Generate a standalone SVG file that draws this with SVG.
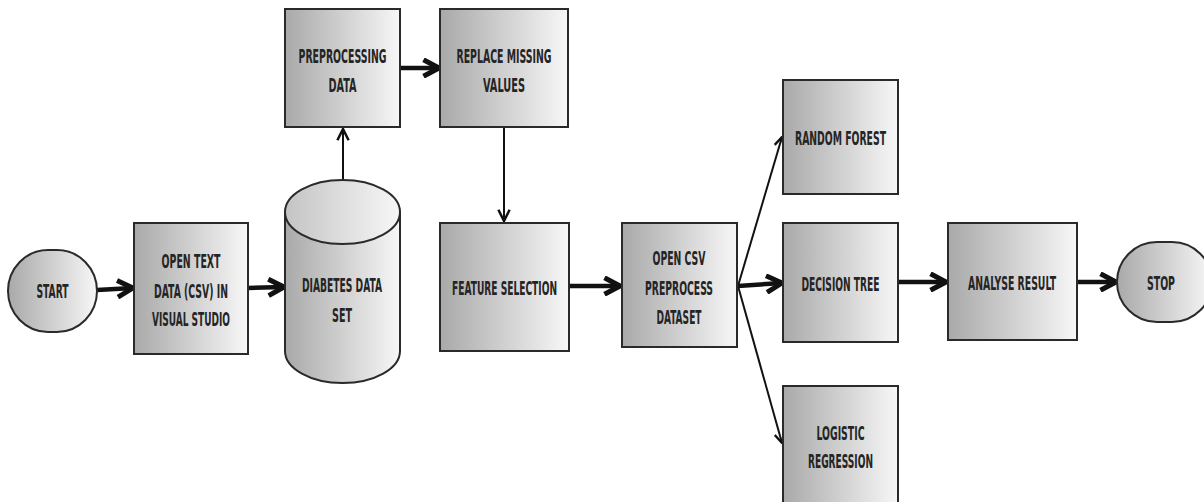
<svg xmlns="http://www.w3.org/2000/svg" width="1204" height="502" viewBox="0 0 1204 502">
<defs>
<linearGradient id="g" x1="0" y1="0" x2="1" y2="0">
<stop offset="0" stop-color="#a9a9a9"/>
<stop offset="1" stop-color="#f7f7f7"/>
</linearGradient>
<linearGradient id="gc" x1="0" y1="0" x2="1" y2="0">
<stop offset="0" stop-color="#c4c4c4"/>
<stop offset="1" stop-color="#f7f7f7"/>
</linearGradient>
<marker id="ah" viewBox="0 0 10 10" refX="9" refY="5" markerWidth="4.6" markerHeight="4.6" markerUnits="strokeWidth" orient="auto">
<path d="M1.5,1 L9,5 L1.5,9" fill="none" stroke="#111" stroke-width="2.4" stroke-linejoin="round"/>
</marker>
<marker id="ah2" viewBox="0 0 10 10" refX="9" refY="5" markerWidth="6" markerHeight="6" markerUnits="strokeWidth" orient="auto">
<path d="M1,1 L9,5 L1,9" fill="none" stroke="#111" stroke-width="2" stroke-linejoin="miter"/>
</marker>
<marker id="ah3" viewBox="0 0 10 10" refX="9" refY="5" markerWidth="7" markerHeight="7" markerUnits="strokeWidth" orient="auto">
<path d="M1,1 L9,5 L1,9" fill="none" stroke="#111" stroke-width="1.8" stroke-linejoin="miter"/>
</marker>
</defs>
<style>
.box{fill:url(#g);stroke:#2a2a2a;stroke-width:2}
.t{font-family:"DejaVu Sans Condensed","DejaVu Sans",sans-serif;font-weight:bold;font-size:19px;fill:#252525;text-anchor:middle}
.thick{stroke:#111;stroke-width:4.5;fill:none}
.thin{stroke:#111;stroke-width:2;fill:none}
</style>
<rect width="1204" height="502" fill="#fff"/>
<g id="connectors">
<line class="thick" x1="97" y1="290" x2="133" y2="288" marker-end="url(#ah)"/>
<line class="thick" x1="248" y1="288" x2="284" y2="287" marker-end="url(#ah)"/>
<line class="thin" x1="343" y1="222" x2="343" y2="129" marker-end="url(#ah3)"/>
<line class="thick" x1="400" y1="68" x2="439" y2="68" marker-end="url(#ah)"/>
<line class="thin" x1="504" y1="127" x2="504" y2="221" marker-end="url(#ah3)"/>
<line class="thick" x1="569" y1="286" x2="620" y2="286" marker-end="url(#ah)"/>
<line class="thin" x1="738" y1="286" x2="782" y2="137" marker-end="url(#ah2)"/>
<line class="thick" x1="738" y1="286" x2="782" y2="283" marker-end="url(#ah)"/>
<line class="thin" x1="738" y1="286" x2="782" y2="443" marker-end="url(#ah2)"/>
<line class="thick" x1="898" y1="282" x2="946" y2="282" marker-end="url(#ah)"/>
<line class="thick" x1="1077" y1="282" x2="1116" y2="282" marker-end="url(#ah)"/>
</g>
<g id="start">
<rect class="box" x="8" y="250" width="89" height="82" rx="40" ry="41"/>
<text class="t" x="52.5" y="298" textLength="32" lengthAdjust="spacingAndGlyphs">START</text>
</g>
<g id="open-text">
<rect class="box" x="134" y="223" width="114" height="131"/>
<text class="t" x="191" y="268" textLength="59" lengthAdjust="spacingAndGlyphs">OPEN TEXT</text>
<text class="t" x="191" y="298" textLength="74" lengthAdjust="spacingAndGlyphs">DATA (CSV) IN</text>
<text class="t" x="191" y="326" textLength="78" lengthAdjust="spacingAndGlyphs">VISUAL STUDIO</text>
</g>
<g id="diabetes-data-set">
<path d="M285,212 L285,351 A57.5,32 0 0 0 400,351 L400,212" fill="url(#g)" stroke="#2a2a2a" stroke-width="2"/>
<ellipse cx="342.5" cy="212" rx="57.5" ry="32" fill="url(#gc)" stroke="#2a2a2a" stroke-width="2"/>
<text class="t" x="342" y="292" textLength="80" lengthAdjust="spacingAndGlyphs">DIABETES DATA</text>
<text class="t" x="342" y="322" textLength="20" lengthAdjust="spacingAndGlyphs">SET</text>
</g>
<g id="preprocessing">
<rect class="box" x="285" y="9" width="115" height="118"/>
<text class="t" x="342.5" y="63" textLength="88" lengthAdjust="spacingAndGlyphs">PREPROCESSING</text>
<text class="t" x="342.5" y="92" textLength="28" lengthAdjust="spacingAndGlyphs">DATA</text>
</g>
<g id="replace-missing">
<rect class="box" x="440" y="9" width="128" height="118"/>
<text class="t" x="504" y="63" textLength="95" lengthAdjust="spacingAndGlyphs">REPLACE MISSING</text>
<text class="t" x="504" y="92" textLength="42" lengthAdjust="spacingAndGlyphs">VALUES</text>
</g>
<g id="feature-selection">
<rect class="box" x="440" y="223" width="129" height="128"/>
<text class="t" x="504.5" y="295" textLength="105" lengthAdjust="spacingAndGlyphs">FEATURE SELECTION</text>
</g>
<g id="open-csv">
<rect class="box" x="622" y="223" width="115" height="124"/>
<text class="t" x="679" y="265" textLength="53" lengthAdjust="spacingAndGlyphs">OPEN CSV</text>
<text class="t" x="679" y="295" textLength="68" lengthAdjust="spacingAndGlyphs">PREPROCESS</text>
<text class="t" x="679" y="324" textLength="45" lengthAdjust="spacingAndGlyphs">DATASET</text>
</g>
<g id="random-forest">
<rect class="box" x="783" y="80" width="115" height="114"/>
<text class="t" x="840.5" y="145" textLength="91" lengthAdjust="spacingAndGlyphs">RANDOM FOREST</text>
</g>
<g id="decision-tree">
<rect class="box" x="783" y="223" width="115" height="119"/>
<text class="t" x="840.5" y="291" textLength="78" lengthAdjust="spacingAndGlyphs">DECISION TREE</text>
</g>
<g id="logistic-regression">
<rect class="box" x="783" y="386" width="115" height="125"/>
<text class="t" x="840.5" y="440" textLength="48" lengthAdjust="spacingAndGlyphs">LOGISTIC</text>
<text class="t" x="840.5" y="468" textLength="65" lengthAdjust="spacingAndGlyphs">REGRESSION</text>
</g>
<g id="analyse-result">
<rect class="box" x="948" y="223" width="129" height="117"/>
<text class="t" x="1012" y="290" textLength="88" lengthAdjust="spacingAndGlyphs">ANALYSE RESULT</text>
</g>
<g id="stop">
<rect class="box" x="1117" y="242" width="95" height="80" rx="40" ry="40"/>
<text class="t" x="1161" y="290" textLength="28" lengthAdjust="spacingAndGlyphs">STOP</text>
</g>
</svg>
